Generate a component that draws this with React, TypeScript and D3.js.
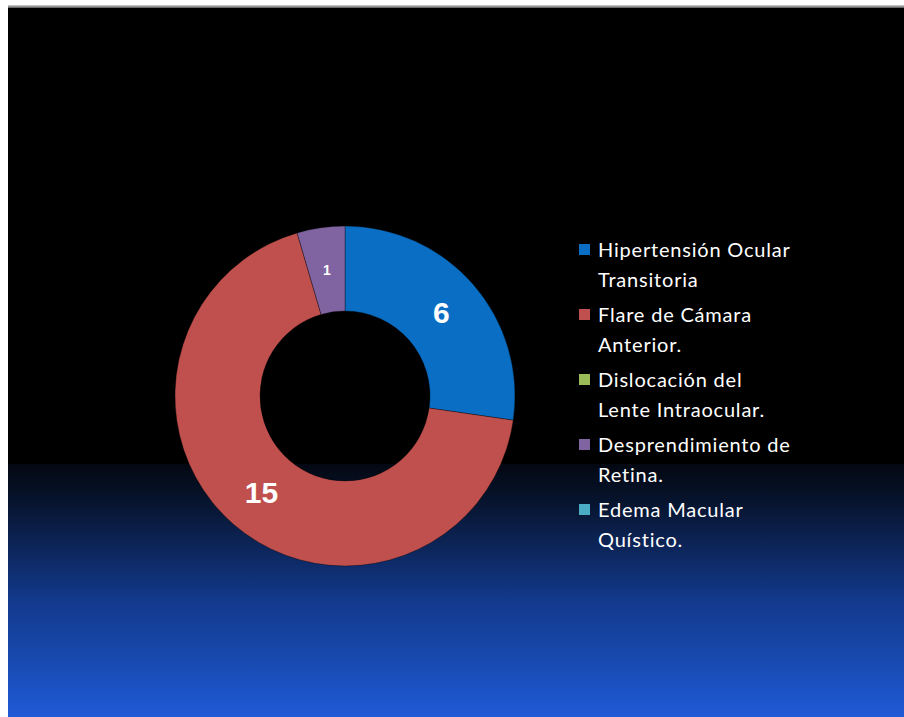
import React from "react";
import * as d3 from "d3";

const categories = [
  ["Hipertensión Ocular", "Transitoria"],
  ["Flare de Cámara", "Anterior."],
  ["Dislocación del", "Lente Intraocular."],
  ["Desprendimiento de", "Retina."],
  ["Edema Macular", "Quístico."],
];
const values = [6, 15, 0, 1, 0];
const colors = ["#0a6fc4", "#c0504d", "#9bbb59", "#8064a2", "#4bacc6"];

const W = 904;
const H = 717;
const OX = 8;
const OY = 8;

export default function App() {
  const cx = 345;
  const cy = 396;
  const outerR = 170;
  const innerR = 85;
  const pie = d3.pie<number>().sort(null).value((d) => d);
  const arcs = pie(values);
  const arc = d3.arc<d3.PieArcDatum<number>>().innerRadius(innerR).outerRadius(outerR);
  const labelArc = d3
    .arc<d3.PieArcDatum<number>>()
    .innerRadius((innerR + outerR) / 2)
    .outerRadius((innerR + outerR) / 2);

  const bandTop = 464;
  const legendX = 598;
  const legendY0 = 257;
  const itemStep = 65;
  const lineStep = 30;

  return (
    <svg
      width={W}
      height={H}
      style={{ display: "block", position: "absolute", left: 0, top: 0 }}
    >
      <defs>
        <linearGradient id="bg" x1="0" y1="0" x2="0" y2="1">
          <stop offset="0" stopColor="#030812" />
          <stop offset="0.15" stopColor="#07142e" />
          <stop offset="0.38" stopColor="#0e2a66" />
          <stop offset="0.55" stopColor="#133a8e" />
          <stop offset="0.75" stopColor="#1748ac" />
          <stop offset="1" stopColor="#1f5ad6" />
        </linearGradient>
        <linearGradient id="edge" x1="0" y1="0" x2="0" y2="1">
          <stop offset="0" stopColor="#d8d8d8" />
          <stop offset="1" stopColor="#555" />
        </linearGradient>
      </defs>
      <rect x={0} y={0} width={W} height={H} fill="#fff" />
      <rect x={OX} y={5} width={W - OX} height={3} fill="url(#edge)" />
      <rect x={OX} y={OY} width={W - OX} height={H - OY} fill="#000" />
      <rect x={OX} y={bandTop} width={W - OX} height={H - bandTop} fill="url(#bg)" />
      <g transform={`translate(${cx},${cy})`}>
        {arcs.map((a, i) =>
          a.value > 0 ? (
            <path key={i} d={arc(a) || ""} fill={colors[i]} stroke="rgba(0,0,0,0.35)" strokeWidth={1} />
          ) : null
        )}
        {arcs.map((a, i) => {
          if (a.value <= 0) return null;
          const [x, y] = labelArc.centroid(a);
          const small = a.value < 2;
          return (
            <text
              key={"l" + i}
              x={x}
              y={y}
              textAnchor="middle"
              dominantBaseline="central"
              fill="#fff"
              fontFamily="'Liberation Sans', Arial, sans-serif"
              fontWeight="bold"
              fontSize={small ? 14 : 30}
            >
              {a.value}
            </text>
          );
        })}
      </g>
      <g>
        {categories.map((lines, i) => {
          const by = legendY0 + i * itemStep;
          return (
            <g key={i}>
              <rect x={legendX - 19} y={by - 13} width={11} height={11} fill={colors[i]} />
              {lines.map((t, j) => (
                <text
                  key={j}
                  x={legendX}
                  y={by + j * lineStep}
                  fill="#fff"
                  fontFamily="Lato, 'Open Sans', sans-serif"
                  fontSize={20}
                  letterSpacing={0.8}
                >
                  {t}
                </text>
              ))}
            </g>
          );
        })}
      </g>
    </svg>
  );
}
